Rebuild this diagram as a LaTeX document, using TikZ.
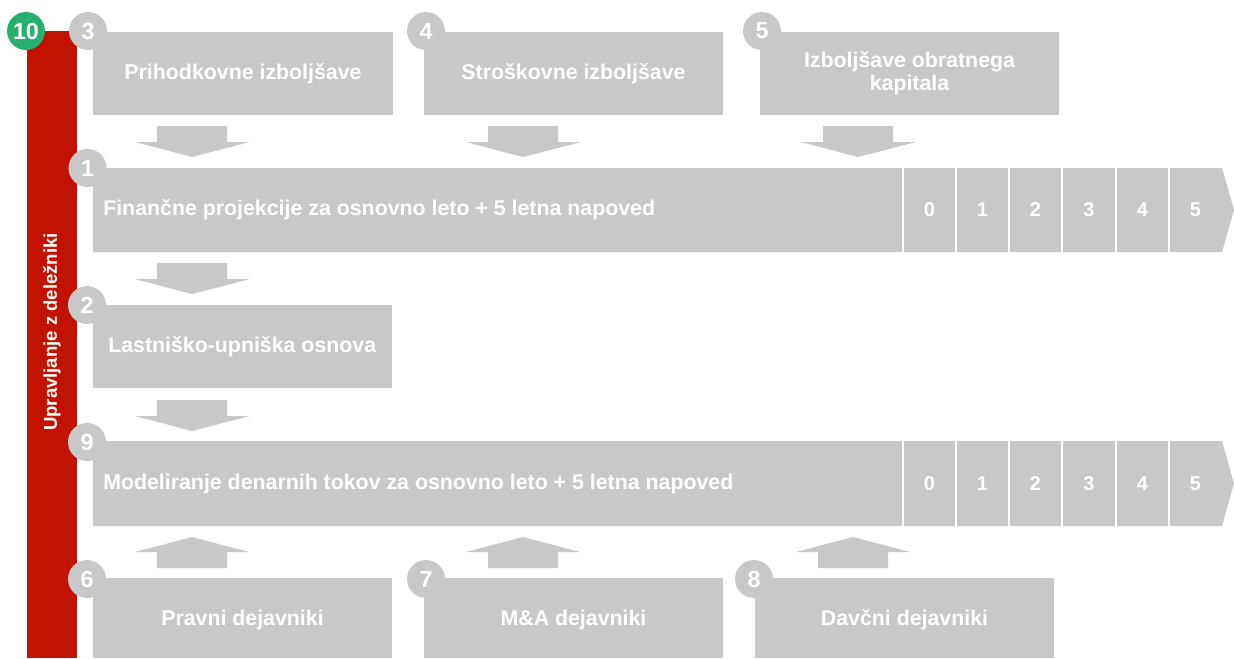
\documentclass[tikz,border=0pt]{standalone}
\usepackage{fontspec}
\setmainfont{Liberation Sans}
\definecolor{boxgray}{RGB}{200,200,200}
\definecolor{barred}{RGB}{194,18,0}
\definecolor{badgegreen}{RGB}{38,176,110}

\tikzset{
  stepbox/.style={fill=boxgray, inner sep=0pt, outer sep=0pt},
  boxtext/.style={text=white, inner sep=0pt, font=\fontsize{16}{17.5}\selectfont\bfseries},
  yeartext/.style={text=white, inner sep=0pt, font=\fontsize{15}{17}\selectfont\bfseries},
  badge/.style={circle, fill=boxgray, minimum size=28.5pt, inner sep=0pt, text=white,
    font=\fontsize{17.5}{20}\selectfont\bfseries},
  divider/.style={draw=white, line width=1.6pt},
  pics/downarrow/.style={code={
    \fill[boxgray] (-35,0) -- (35,0) -- (35,16) -- (58,16) -- (0,31) -- (-57,16) -- (-35,16) -- cycle;}},
  pics/uparrow/.style={code={
    \fill[boxgray] (-35,0) -- (35,0) -- (35,-16) -- (57,-16) -- (0,-31) -- (-57,-16) -- (-35,-16) -- cycle;}},
}

\begin{document}
\begin{tikzpicture}[x=0.75pt, y=-0.75pt]
\useasboundingbox (0,0) rectangle (1234,658);

% stakeholder management bar
\node[fill=barred, inner sep=0pt, minimum width=50*0.75pt, minimum height=627*0.75pt] (bar) at (52,344.5) {};
\node[text=white, rotate=90, inner sep=0pt, font=\fontsize{13.9}{16}\selectfont\bfseries] (bartext) at (52,332) {Upravljanje z deležniki};

% top row: improvement boxes
\node[stepbox, minimum width=300*0.75pt, minimum height=83*0.75pt] (b3) at (243,73.5) {};
\node[boxtext] (t3) at (b3.center) {Prihodkovne izboljšave};
\node[stepbox, minimum width=299*0.75pt, minimum height=83*0.75pt] (b4) at (573.5,73.5) {};
\node[boxtext] (t4) at (b4.center) {Stroškovne izboljšave};
\node[stepbox, minimum width=299*0.75pt, minimum height=83*0.75pt] (b5) at (909.5,73.5) {};
\node[boxtext, align=center] (t5) at (b5.center) {Izboljšave obratnega\\kapitala};

\pic at (192,126) {downarrow};
\pic at (523,126) {downarrow};
\pic at (858,126) {downarrow};

% financial projections banner
\fill[boxgray] (93,168) -- (1222,168) -- (1234,210) -- (1222,252) -- (93,252) -- cycle;
\coordinate (b1) at (93,210);
\node[boxtext, anchor=west] (t1) at ([xshift=10*0.75pt]b1) {Finančne projekcije za osnovno leto + 5 letna napoved};
\foreach \x in {903,956,1009,1062,1116,1169}
  \draw[divider] (\x,168) -- (\x,252);
\foreach \x/\n [count=\i] in {929.5/0,982.5/1,1035.5/2,1089/3,1142.5/4,1195.5/5}
  \node[yeartext] (y1-\i) at (\x,210) {\n};

\pic at (192,263) {downarrow};

% equity/debt basis
\node[stepbox, minimum width=299*0.75pt, minimum height=83*0.75pt] (b2) at (242.5,346.5) {};
\node[boxtext, anchor=west] (t2) at ([xshift=15*0.75pt]b2.west) {Lastniško-upniška osnova};

\pic at (192,400) {downarrow};

% cash flow modelling banner
\fill[boxgray] (93,441) -- (1222,441) -- (1234,483.5) -- (1222,526) -- (93,526) -- cycle;
\coordinate (b9) at (93,483.5);
\node[boxtext, anchor=west] (t9) at ([xshift=10*0.75pt]b9) {Modeliranje denarnih tokov za osnovno leto + 5 letna napoved};
\foreach \x in {903,956,1009,1062,1116,1169}
  \draw[divider] (\x,441) -- (\x,526);
\foreach \x/\n [count=\i] in {929.5/0,982.5/1,1035.5/2,1089/3,1142.5/4,1195.5/5}
  \node[yeartext] (y9-\i) at (\x,483.5) {\n};

% bottom row: factor boxes
\pic at (192,568) {uparrow};
\pic at (523,568) {uparrow};
\pic at (853,568) {uparrow};

\node[stepbox, minimum width=299*0.75pt, minimum height=80*0.75pt] (b6) at (242.5,618) {};
\node[boxtext] (t6) at (242.5,620) {Pravni dejavniki};
\node[stepbox, minimum width=299*0.75pt, minimum height=80*0.75pt] (b7) at (573.5,618) {};
\node[boxtext] (t7) at (573.5,620) {M\&A dejavniki};
\node[stepbox, minimum width=299*0.75pt, minimum height=80*0.75pt] (b8) at (904.5,618) {};
\node[boxtext] (t8) at (904.5,620) {Davčni dejavniki};

% step numbers
\node[badge, fill=badgegreen] (n10) at (26,31) {10};
\node[badge] (n3) at (88,31) {3};
\node[badge] (n4) at (426,31) {4};
\node[badge] (n5) at (762,31) {5};
\node[badge] (n1) at (87.5,168) {1};
\node[badge] (n2) at (87,305) {2};
\node[badge] (n9) at (87,442) {9};
\node[badge] (n6) at (87,579) {6};
\node[badge] (n7) at (426,579) {7};
\node[badge] (n8) at (754,579) {8};
\end{tikzpicture}
\end{document}
